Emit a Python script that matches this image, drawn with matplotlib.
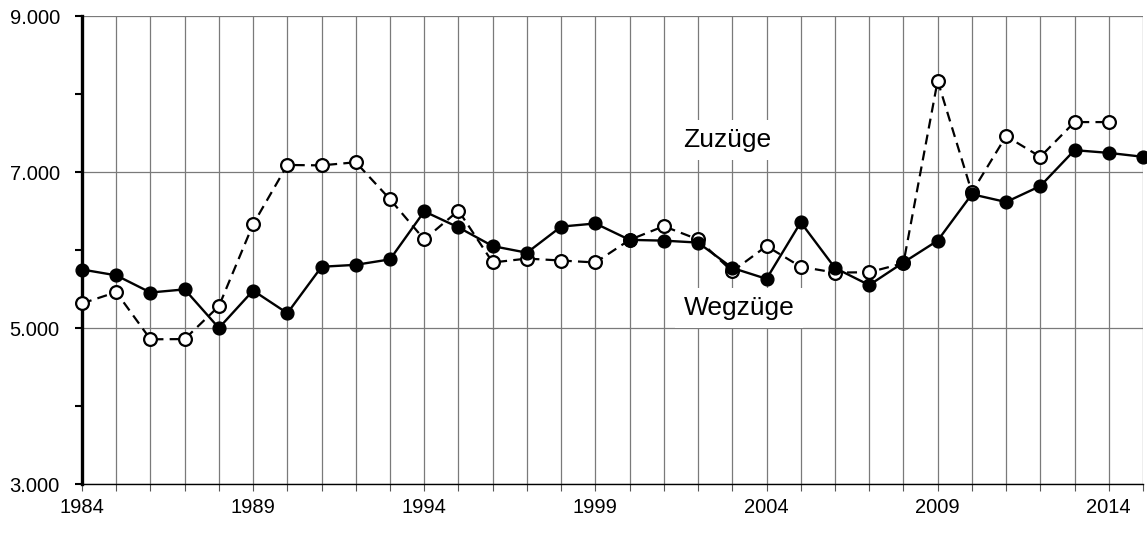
import matplotlib
matplotlib.use("Agg")
import matplotlib.pyplot as plt
from matplotlib.ticker import FixedLocator, FuncFormatter

plt.rcParams['font.family'] = ['Liberation Sans', 'DejaVu Sans']

years = list(range(1984, 2016))
wegzuege = [5750, 5675, 5455, 5495, 5000, 5480, 5190, 5785, 5810, 5880,
            6495, 6290, 6050, 5965, 6300, 6340, 6130, 6120, 6095, 5770,
            5630, 6355, 5770, 5550, 5840, 6120, 6715, 6615, 6820, 7280,
            7245, 7195]
zuzuege_years = list(range(1984, 2015))
zuzuege = [5315, 5460, 4855, 4858, 5280, 6330, 7090, 7085, 7125, 6650,
           6135, 6505, 5840, 5890, 5865, 5840, 6130, 6305, 6135, 5725,
           6050, 5785, 5710, 5715, 5830, 8170, 6740, 7460, 7195, 7640,
           7640]

y_major = [3000, 5000, 7000, 9000]
y_minor = [4000, 6000, 8000]
label_every = 5

fig = plt.figure(figsize=(11.47, 5.45), dpi=100)
ax = fig.add_axes([82/1147, 1-484/545, (1143-82)/1147, (484-16)/545])

ax.set_xlim(1984, 2015)
ax.set_ylim(3000, 9000)

ax.plot(zuzuege_years, zuzuege, color='black', lw=1.6, ls=(0, (4.5, 2.8)),
        marker='o', ms=9.2, mfc='white', mec='black', mew=1.6,
        clip_on=False, zorder=3)
ax.plot(years, wegzuege, color='black', lw=1.7, ls='-',
        marker='o', ms=9.2, mfc='black', mec='black', mew=1.0,
        clip_on=False, zorder=4)

ax.xaxis.set_major_locator(FixedLocator(years))
ax.xaxis.set_major_formatter(FuncFormatter(
    lambda v, p: f"{int(round(v))}" if (int(round(v)) - 1984) % label_every == 0 else ""))
ax.yaxis.set_major_locator(FixedLocator(y_major))
ax.yaxis.set_minor_locator(FixedLocator(y_minor))
ax.yaxis.set_major_formatter(FuncFormatter(lambda v, p: f"{int(v):,}".replace(",", ".")))

ax.grid(True, which='major', axis='both', color='#7a7a7a', lw=0.9, zorder=0)
ax.set_axisbelow(True)

for s in ['top', 'right']:
    ax.spines[s].set_visible(False)
ax.spines['left'].set_linewidth(2.4)
ax.spines['bottom'].set_linewidth(1.0)

ax.tick_params(axis='y', which='both', direction='out', length=5, width=1.5,
               labelsize=14.5, pad=11)
ax.tick_params(axis='x', which='major', direction='out', length=5, width=0.8,
               labelsize=14.5, pad=5, color='#555555')

ax.text(2002.85, 7320, "Zuzüge", fontsize=19, ha='center', va='baseline',
        bbox=dict(facecolor='white', edgecolor='none', pad=6), zorder=2)
ax.text(2003.2, 5167, "Wegzüge", fontsize=19, ha='center', va='baseline',
        bbox=dict(facecolor='white', edgecolor='none', pad=6), zorder=2)

fig.savefig("out.png", dpi=100)
